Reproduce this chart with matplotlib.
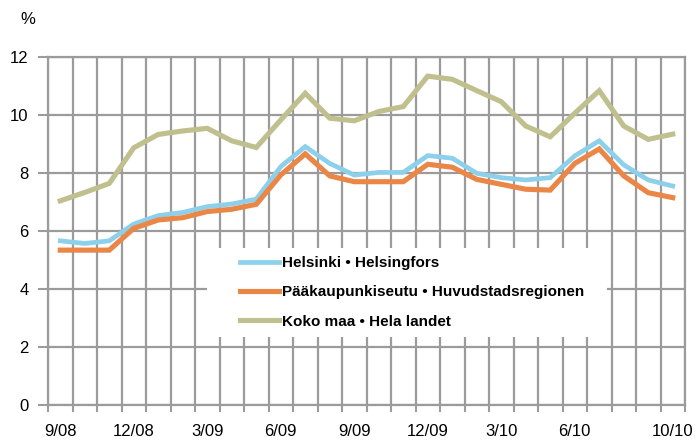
import matplotlib
matplotlib.use("Agg")
import matplotlib.pyplot as plt
from matplotlib.patches import Rectangle
import numpy as np

# monthly, 9/08 .. 10/10
months = ["9/08", "10/08", "11/08", "12/08", "1/09", "2/09", "3/09", "4/09",
          "5/09", "6/09", "7/09", "8/09", "9/09", "10/09", "11/09", "12/09",
          "1/10", "2/10", "3/10", "4/10", "5/10", "6/10", "7/10", "8/10",
          "9/10", "10/10"]
shown_labels = ["9/08", "12/08", "3/09", "6/09", "9/09", "12/09", "3/10", "6/10", "10/10"]

helsinki = [5.66, 5.57, 5.66, 6.24, 6.53, 6.64, 6.84, 6.93, 7.10, 8.22, 8.91, 8.33, 7.93,
            8.02, 8.02, 8.60, 8.51, 7.99, 7.84, 7.76, 7.84, 8.59, 9.11, 8.28, 7.76, 7.55]
paakaupunkiseutu = [5.34, 5.34, 5.34, 6.09, 6.38, 6.46, 6.67, 6.75, 6.92, 7.93, 8.66, 7.90, 7.70,
                    7.70, 7.70, 8.30, 8.20, 7.78, 7.61, 7.44, 7.41, 8.33, 8.83, 7.90, 7.32, 7.15]
koko_maa = [7.04, 7.33, 7.64, 8.87, 9.33, 9.45, 9.54, 9.11, 8.88, 9.83, 10.75, 9.89, 9.80,
            10.12, 10.29, 11.34, 11.23, 10.84, 10.46, 9.62, 9.25, 10.06, 10.84, 9.62, 9.16, 9.34]

names = ["Helsinki \u2022 Helsingfors",
         "Pääkaupunkiseutu \u2022 Huvudstadsregionen",
         "Koko maa \u2022 Hela landet"]

plt.rcParams["font.family"] = ["Liberation Sans", "DejaVu Sans"]

fig = plt.figure(figsize=(6.95, 4.43), dpi=100)
ax = fig.add_axes([48 / 695, 1 - 405 / 443, 637 / 695, 348 / 443])

grid_col = "#9b9b9b"
x = np.arange(len(months))

ax.plot(x, koko_maa, color="#c0bf8e", lw=3.7, solid_joinstyle="miter", zorder=3, label=names[2])
ax.plot(x, helsinki, color="#8dd0ec", lw=3.4, solid_joinstyle="miter", zorder=4, label=names[0])
ax.plot(x, paakaupunkiseutu, color="#ea8747", lw=3.7, solid_joinstyle="miter", zorder=5, label=names[1])

ax.set_xlim(-0.5, len(months) - 0.5)
ax.set_ylim(0, 12)
ax.set_yticks(np.arange(0, 13, 2))

# category boundaries carry the grid and tick marks, labels sit in the centres
ax.set_xticks(np.arange(-0.5, len(months), 1))
ax.set_xticklabels([])
ax.set_xticks([months.index(m) for m in shown_labels], minor=True)
ax.set_xticklabels(shown_labels, minor=True)
ax.tick_params(axis="x", which="major", length=5, width=1.5, color=grid_col)
ax.tick_params(axis="x", which="minor", length=0, pad=14, labelsize=12)
ax.tick_params(axis="y", length=7, width=1.5, color=grid_col, pad=7, labelsize=12)

ax.grid(True, which="major", color=grid_col, lw=1.6)
ax.set_axisbelow(True)
for s in ax.spines.values():
    s.set_color(grid_col)
    s.set_linewidth(1.6)

# white box behind the legend
ax.add_patch(Rectangle(((207 - 48) / 637, (405 - 337) / 348), 400 / 637, 89 / 348,
                       transform=ax.transAxes, facecolor="white", edgecolor="none", zorder=1.5))

handles, labels = ax.get_legend_handles_labels()
order = [1, 2, 0]
leg = ax.legend([handles[i] for i in order], [labels[i] for i in order],
                loc="upper left", bbox_to_anchor=(240 / 695, 1 - 256 / 443),
                bbox_transform=fig.transFigure, frameon=False, borderpad=0,
                borderaxespad=0, handlelength=2.55, handletextpad=0.2,
                labelspacing=1.0, prop={"weight": "bold", "size": 11})

fig.text(27.5 / 695, 1 - 19.5 / 443, "%", ha="center", va="center", fontsize=12)

fig.savefig("out.png", dpi=100)
